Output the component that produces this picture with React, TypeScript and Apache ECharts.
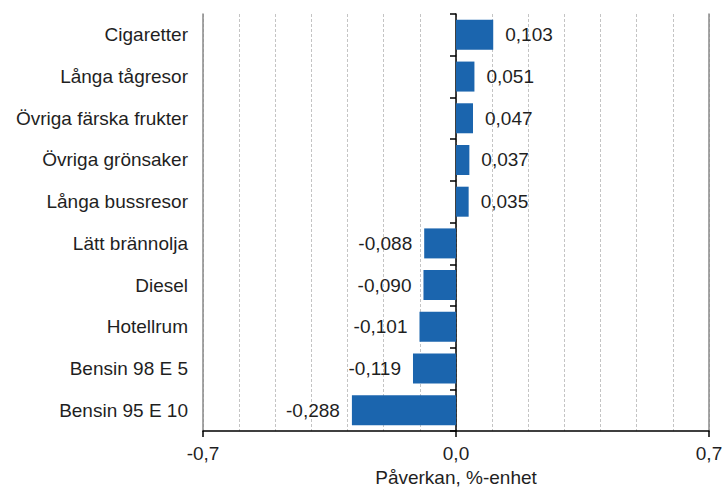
import React, { useEffect, useRef } from "react";
import * as echarts from "echarts";

const categories = [
  "Cigaretter",
  "Långa tågresor",
  "Övriga färska frukter",
  "Övriga grönsaker",
  "Långa bussresor",
  "Lätt brännolja",
  "Diesel",
  "Hotellrum",
  "Bensin 98 E 5",
  "Bensin 95 E 10",
];
const values = [0.103, 0.051, 0.047, 0.037, 0.035, -0.088, -0.09, -0.101, -0.119, -0.288];
const axisMin = -0.7;
const axisMax = 0.7;
const gridStep = 0.1;
const labelStep = 0.7;
const axisTitle = "Påverkan, %-enhet";

const FONT = "'Liberation Sans', Arial, sans-serif";
const TEXT = "#1f1f1f";
const BAR = "#1b65ae";

const fmt = (v: number, d: number) => v.toFixed(d).replace(".", ",");

export default function App() {
  const ref = useRef<HTMLDivElement>(null);
  useEffect(() => {
    if (!ref.current) return;
    const chart = echarts.init(ref.current, undefined, { renderer: "svg" });
    chart.setOption({
      animation: false,
      textStyle: { fontFamily: FONT, color: TEXT },
      grid: { left: 203, right: 18, top: 14, bottom: 52, containLabel: false },
      xAxis: [
        {
          type: "value",
          min: axisMin,
          max: axisMax,
          interval: gridStep,
          position: "bottom",
          axisLine: { show: false, onZero: false },
          axisTick: { show: false },
          axisLabel: { show: false },
          splitLine: { show: true, lineStyle: { color: "#c4c4c4", width: 1, type: [3, 2] } },
        },
        {
          type: "value",
          min: axisMin,
          max: axisMax,
          interval: labelStep,
          position: "bottom",
          axisLine: { show: true, onZero: false, lineStyle: { color: "#000", width: 1.5 } },
          axisTick: { show: true, length: 6, lineStyle: { color: "#000", width: 1.5 } },
          axisLabel: {
            margin: 13,
            fontSize: 19,
            color: TEXT,
            fontFamily: FONT,
            formatter: (v: number) => fmt(v, 1),
          },
          splitLine: { show: false },
          name: axisTitle,
          nameLocation: "middle",
          nameGap: 31,
          nameTextStyle: { fontSize: 19, color: TEXT, fontFamily: FONT },
        },
      ],
      yAxis: [
        {
          type: "category",
          data: categories,
          inverse: true,
          position: "left",
          axisLine: { show: true, onZero: false, lineStyle: { color: "#8a8a8a", width: 1.5 } },
          axisTick: { show: false },
          axisLabel: { fontSize: 19, color: TEXT, margin: 15, fontFamily: FONT },
          splitLine: { show: false },
        },
        {
          type: "category",
          data: categories,
          inverse: true,
          position: "left",
          axisLine: { show: true, onZero: true, lineStyle: { color: "#000", width: 1.5 } },
          axisTick: { show: true, length: 6, lineStyle: { color: "#000", width: 1.5 } },
          axisLabel: { show: false },
          splitLine: { show: false },
        },
        {
          type: "category",
          data: categories,
          inverse: true,
          position: "right",
          axisLine: { show: true, onZero: false, lineStyle: { color: "#8a8a8a", width: 1.5 } },
          axisTick: { show: false },
          axisLabel: { show: false },
          splitLine: { show: false },
        },
      ],
      series: [
        {
          type: "bar",
          xAxisIndex: 0,
          yAxisIndex: 0,
          barWidth: 30,
          itemStyle: { color: BAR },
          data: values.map((v) => ({
            value: v,
            label: {
              show: true,
              position: v >= 0 ? "right" : "left",
              distance: 12,
              fontSize: 19,
              color: TEXT,
              fontFamily: FONT,
              formatter: () => fmt(v, 3),
            },
          })),
        },
      ],
    });
    return () => chart.dispose();
  }, []);
  return (
    <div
      ref={ref}
      style={{ position: "fixed", left: 0, top: 0, width: 727, height: 492, background: "#fff" }}
    />
  );
}
